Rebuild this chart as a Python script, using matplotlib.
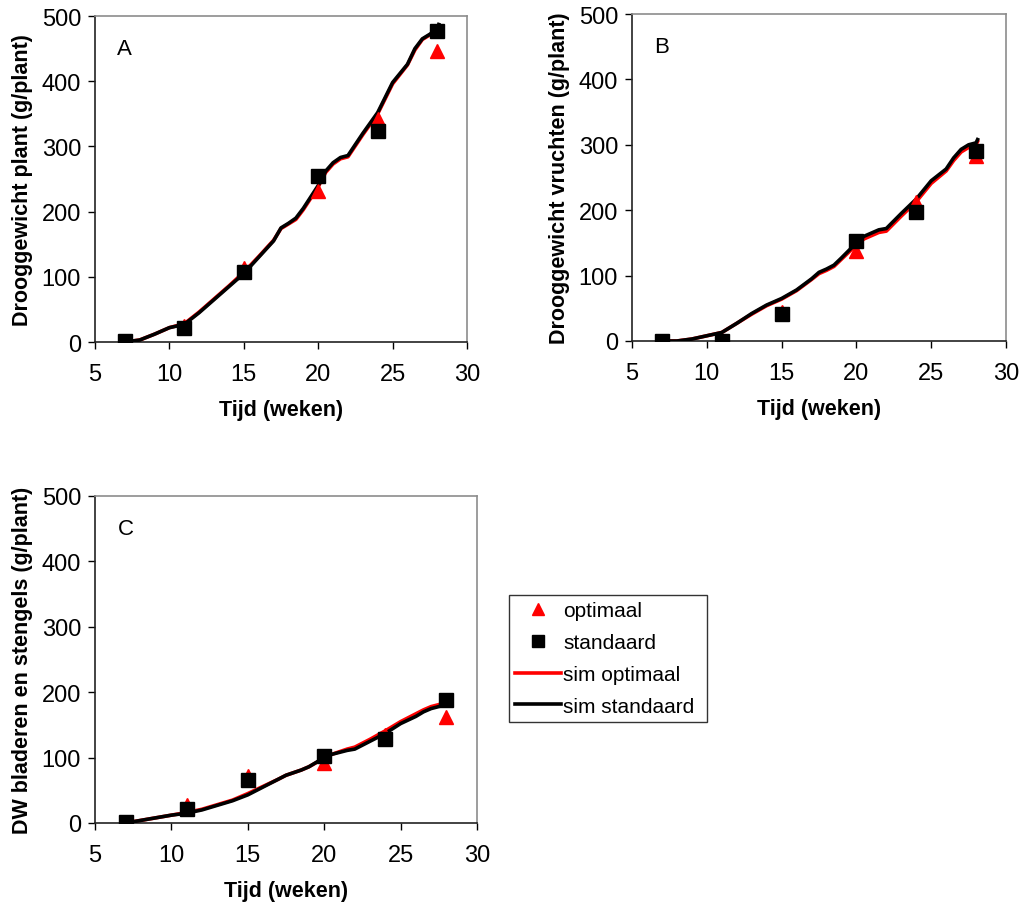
import matplotlib
matplotlib.use("Agg")
import matplotlib.pyplot as plt

plt.rcParams['font.family'] = ['Liberation Sans', 'DejaVu Sans']

# observations (weeks)
t_obs = [7, 11, 15, 20, 24, 28]

a_opt = [2, 25, 113, 232, 342, 447]
a_std = [2, 22, 107, 255, 323, 477]
b_opt = [0, 0, 45, 137, 212, 283]
b_std = [0, 0, 42, 153, 197, 290]
c_opt = [2, 27, 72, 92, 135, 162]
c_std = [2, 22, 65, 103, 128, 188]

# simulations
t_sim = [7, 8, 9, 10, 11, 12, 13, 14, 15, 16, 17, 17.5, 18, 18.5, 19, 20, 20.5, 21, 21.5, 22,
         23, 24, 25, 26, 26.5, 27, 27.5, 28, 28.1]

a_sim_std = [0, 3, 12, 22, 27, 45, 65, 85, 105, 130, 155, 175, 182, 190, 205, 240, 262, 275, 283, 286,
             320, 352, 398, 426, 450, 465, 472, 480, 487]
a_sim_opt = [0, 3, 12, 22, 28, 46, 66, 86, 107, 131, 156, 174, 181, 188, 203, 238, 260, 273, 281, 284,
             318, 350, 396, 425, 448, 464, 471, 478, 484]
b_sim_std = [0, 0, 3, 8, 13, 27, 42, 55, 65, 78, 95, 105, 110, 116, 127, 150, 160, 165, 170, 172,
             195, 217, 245, 263, 280, 293, 300, 303, 308]
b_sim_opt = [0, 0, 3, 8, 13, 27, 41, 54, 64, 77, 94, 103, 108, 114, 125, 147, 156, 161, 166, 168,
             191, 213, 241, 260, 276, 289, 296, 300, 305]
c_sim_std = [0, 4, 8, 12, 15, 20, 27, 34, 43, 55, 67, 73, 77, 81, 86, 100, 105, 108, 111, 113,
             125, 137, 152, 163, 170, 175, 178, 182, 184]
c_sim_opt = [0, 4, 8, 12, 16, 21, 28, 35, 45, 56, 67, 73, 77, 81, 86, 99, 105, 109, 113, 116,
             128, 141, 155, 167, 173, 178, 181, 185, 186]

W, H = 1024, 904
fig = plt.figure(figsize=(W / 100, H / 100), dpi=100)


def make_ax(l, t, r, b):
    return fig.add_axes([l / W, 1 - b / H, (r - l) / W, (b - t) / H])


panels = [
    (make_ax(95, 17, 467, 343), a_opt, a_std, a_sim_opt, a_sim_std, 'A', 'Drooggewicht plant (g/plant)'),
    (make_ax(632, 15, 1006, 342), b_opt, b_std, b_sim_opt, b_sim_std, 'B', 'Drooggewicht vruchten (g/plant)'),
    (make_ax(95, 497, 477, 824), c_opt, c_std, c_sim_opt, c_sim_std, 'C', 'DW bladeren en stengels (g/plant)'),
]

for ax, opt, std, sopt, sstd, letter, ylab in panels:
    ax.plot(t_sim, sopt, color='red', lw=2.6, label='sim optimaal', zorder=2)
    ax.plot(t_sim, sstd, color='black', lw=2.6, label='sim standaard', zorder=3)
    ax.plot(t_obs, opt, '^', color='red', ms=10, ls='none', label='optimaal', zorder=4)
    ax.plot(t_obs, std, 's', color='black', ms=10, ls='none', label='standaard', zorder=5)
    ax.set_xlim(5, 30)
    ax.set_ylim(0, 500)
    ax.set_xticks([5, 10, 15, 20, 25, 30])
    ax.set_yticks([0, 100, 200, 300, 400, 500])
    ax.tick_params(labelsize=17, direction='out', length=5, width=1)
    ax.tick_params(axis='x', pad=10)
    ax.tick_params(axis='y', pad=5)
    ax.set_xlabel('Tijd (weken)', fontsize=15.5, fontweight='bold', labelpad=10)
    ax.set_ylabel(ylab, fontsize=15.5, fontweight='bold', labelpad=6)
    for s in ['top', 'right']:
        ax.spines[s].set_color('#8c8c8c')
        ax.spines[s].set_linewidth(1.2)
    for s in ['left', 'bottom']:
        ax.spines[s].set_color('#222222')
        ax.spines[s].set_linewidth(1.2)
    ax.text(0.06, 0.9, letter, transform=ax.transAxes, fontsize=16, va='center', ha='left')

handles, labels = panels[0][0].get_legend_handles_labels()
order = [2, 3, 0, 1]
leg = fig.legend([handles[i] for i in order], [labels[i] for i in order],
                 loc='lower left', bbox_to_anchor=(509 / W, 1 - 723 / H, 198 / W, 126 / H),
                 mode='expand', fontsize=15, frameon=True, fancybox=False, edgecolor='black',
                 handlelength=2.2, handletextpad=0.1, borderpad=0.3, labelspacing=0.62,
                 borderaxespad=0, markerscale=0.9)
leg.get_frame().set_linewidth(1.0)

fig.savefig('out.png', dpi=100)
